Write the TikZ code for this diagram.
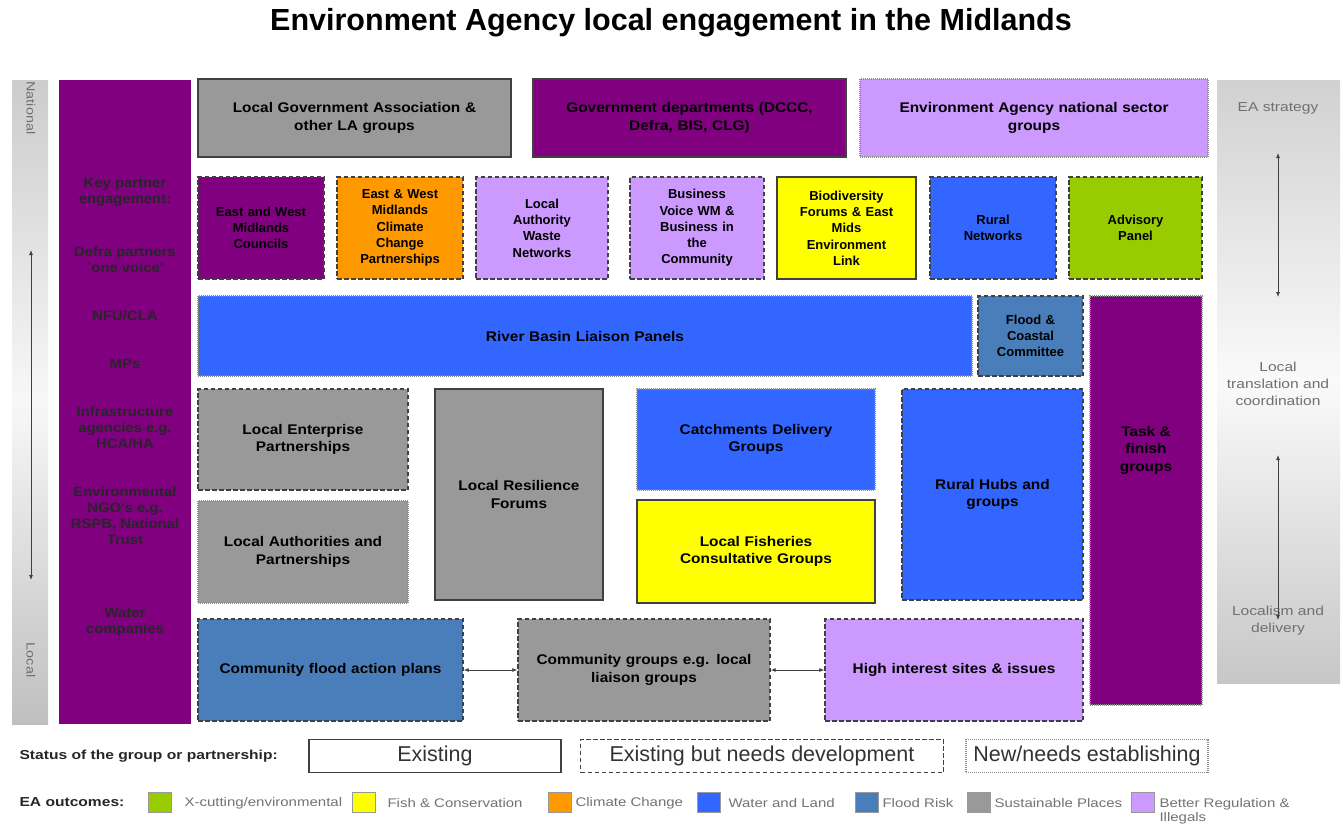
\documentclass[tikz,border=0pt]{standalone}
\usepackage{fontspec}
\setmainfont{Liberation Sans}
\newfontfamily\eawide[FakeStretch=1.2]{Liberation Sans}
\newfontfamily\eamid[FakeStretch=1.1]{Liberation Sans}
\usetikzlibrary{arrows.meta}
\definecolor{eapurple}{HTML}{800080}
\definecolor{eagrey}{HTML}{999999}
\definecolor{ealilac}{HTML}{CC99FF}
\definecolor{eaorange}{HTML}{FF9900}
\definecolor{eayellow}{HTML}{FFFF00}
\definecolor{eablue}{HTML}{3366FF}
\definecolor{eagreen}{HTML}{99CC00}
\definecolor{easteel}{HTML}{4A7EBB}
\definecolor{eabartext}{HTML}{707070}
\newcommand{\eabox}[7]{%
  \pgfmathsetmacro{\eaCX}{(#2+#4)/2}%
  \pgfmathsetmacro{\eaCY}{(#3+#5)/2}%
  \pgfmathsetmacro{\eaW}{#4-#2}%
  \pgfmathsetmacro{\eaH}{#5-#3}%
  \pgfmathsetmacro{\eaTW}{#4-#2-8}%
  \node[#6, minimum width=\eaW pt, minimum height=\eaH pt, text width=\eaTW pt] (#1) at (\eaCX,\eaCY) {#7};}
\tikzset{
  box/.style={draw=black!75, line width=1.4pt, inner sep=2pt, align=center,
    font=\eamid\bfseries\fontsize{14}{17.5}\selectfont, text=black},
  exist/.style={box},
  develop/.style={box, dash pattern=on 4.5pt off 2.5pt},
  newb/.style={box, draw=black!45, line width=1.1pt, dash pattern=on 1pt off 1pt},
  smalltxt/.style={font=\bfseries\fontsize{13}{16.3}\selectfont},
  coltxt/.style={align=center, font=\eamid\bfseries\fontsize{13.5}{16}\selectfont, text=black!85},
  bartxt/.style={align=center, font=\eawide\fontsize{13}{17}\selectfont, text=eabartext},
  bararrow/.style={{Latex[length=5pt,width=4pt]}-{Latex[length=5pt,width=4pt]}, line width=0.8pt, draw=black!75},
  legtxt/.style={anchor=west, font=\eawide\fontsize{12.5}{14}\selectfont, text=black!55, align=left},
  swatch/.style={draw=black!40, line width=0.8pt, minimum width=23pt, minimum height=20pt, inner sep=0pt},
  statbox/.style={font=\fontsize{21.5}{24}\selectfont, text=black!80, minimum height=33pt, inner sep=0pt, line width=1.3pt}
}
\begin{document}
\begin{tikzpicture}[x=1pt,y=-1pt]
\useasboundingbox (0,0) rectangle (1343,827);
\fill[white] (0,0) rectangle (1343,827);

% title
\node[font=\bfseries\fontsize{30.5}{34}\selectfont] (title) at (671,23) {Environment Agency local engagement in the Midlands};

% side bars
\shade[top color=black!20, bottom color=black!25, middle color=black!3] (12,80) rectangle (48,724);
\node[rotate=-90, font=\eawide\fontsize{12}{13}\selectfont, text=eabartext] (natl) at (31,108) {National};
\node[rotate=-90, font=\eawide\fontsize{12}{13}\selectfont, text=eabartext] (locl) at (31,660) {Local};
\coordinate (la1) at (31,250);
\coordinate (la2) at (31,580);
\draw[bararrow] (la1) -- (la2);

\shade[top color=black!18, bottom color=black!22, middle color=black!2] (1217,80) rectangle (1340,683);
\node[bartxt] (eastrat) at (1278,108) {EA strategy};
\node[bartxt] (loctrans) at (1278,384) {Local\\translation and\\coordination};
\node[bartxt] (locdel) at (1278,621) {Localism and\\delivery};
\coordinate (ra1) at (1278,153);
\coordinate (ra2) at (1278,297);
\coordinate (ra3) at (1278,455);
\coordinate (ra4) at (1278,620);
\draw[bararrow] (ra1) -- (ra2);
\draw[bararrow] (ra3) -- (ra4);

% purple column
\eabox{col}{59}{80}{191}{724}{box, draw=none, fill=eapurple}{}
\node[coltxt] (c1) at (125,192) {Key partner\\engagement:};
\node[coltxt] (c2) at (125,260) {Defra partners\\`one voice'};
\node[coltxt] (c3) at (125,316) {NFU/CLA};
\node[coltxt] (c4) at (125,364) {MPs};
\node[coltxt] (c5) at (125,428) {Infrastructure\\agencies e.g.\\HCA/HA};
\node[coltxt] (c6) at (125,516) {Environmental\\NGO's e.g.\\RSPB, National\\Trust};
\node[coltxt] (c7) at (125,622) {Water\\companies};

% top row
\eabox{lga}{198}{79}{511}{157}{exist, fill=eagrey}{Local Government Association \&\\other LA groups}
\eabox{gov}{533}{79}{846}{157}{exist, fill=eapurple}{Government departments (DCCC,\\Defra, BIS, CLG)}
\eabox{eans}{860}{79}{1208}{157}{newb, fill=ealilac}{Environment Agency national sector\\groups}

% row 2
\eabox{ewmc}{198}{177}{324}{279}{develop, smalltxt, fill=eapurple}{East and West\\Midlands\\Councils}
\eabox{ccp}{337}{177}{463}{279}{develop, smalltxt, fill=eaorange}{East \& West\\Midlands\\Climate\\Change\\Partnerships}
\eabox{lawn}{476}{177}{608}{279}{develop, smalltxt, fill=ealilac}{Local\\Authority\\Waste\\Networks}
\eabox{bvwm}{630}{177}{764}{279}{develop, smalltxt, fill=ealilac}{Business\\Voice WM \&\\Business in\\the\\Community}
\eabox{biod}{777}{177}{916}{279}{exist, smalltxt, fill=eayellow}{Biodiversity\\Forums \& East\\Mids\\Environment\\Link}
\eabox{rurn}{930}{177}{1056}{279}{develop, smalltxt, fill=eablue}{Rural\\Networks}
\eabox{advp}{1069}{177}{1202}{279}{develop, smalltxt, fill=eagreen}{Advisory\\Panel}

% row 3
\eabox{rblp}{198}{296}{972}{376}{newb, fill=eablue}{River Basin Liaison Panels}
\eabox{fcc}{978}{296}{1083}{376}{develop, smalltxt, fill=easteel}{Flood \&\\Coastal\\Committee}
\eabox{tfg}{1090}{296}{1202}{705}{newb, fill=eapurple}{}
\node[box, draw=none, align=center] (tfgtxt) at (1146,450) {Task \&\\finish\\groups};

% row 4
\eabox{lep}{198}{389}{408}{490}{develop, fill=eagrey}{Local Enterprise\\Partnerships}
\eabox{lap}{198}{501}{408}{603}{newb, fill=eagrey}{Local Authorities and\\Partnerships}
\eabox{lrf}{435}{389}{603}{600}{exist, fill=eagrey}{Local Resilience\\Forums}
\eabox{cdg}{637}{389}{875}{490}{newb, fill=eablue}{Catchments Delivery\\Groups}
\eabox{lfcg}{637}{500}{875}{603}{exist, fill=eayellow}{Local Fisheries\\Consultative Groups}
\eabox{rhg}{902}{389}{1083}{600}{develop, fill=eablue}{Rural Hubs and\\groups}

% row 5
\eabox{cfap}{198}{619}{463}{721}{develop, fill=easteel}{Community flood action plans}
\eabox{cg}{518}{619}{770}{721}{develop, fill=eagrey}{Community groups e.g. local\\liaison groups}
\eabox{his}{825}{619}{1083}{721}{develop, fill=ealilac}{High interest sites \& issues}
\draw[bararrow] (cfap.east) -- (cg.west);
\draw[bararrow] (cg.east) -- (his.west);

% legend: status
\node[anchor=west, font=\eawide\bfseries\fontsize{13}{14}\selectfont, text=black!85] (statlbl) at (16,756) {Status of the group or partnership:};
\node[statbox, draw=black!75, minimum width=252pt] (lgexist) at (435,756) {Existing};
\node[statbox, draw=black!75, dash pattern=on 4.5pt off 2.5pt, minimum width=363pt] (lgdev) at (762,756) {Existing but needs development};
\node[statbox, draw=black!45, dash pattern=on 1pt off 1pt, line width=1.1pt, minimum width=242pt] (lgnew) at (1087,756) {New/needs establishing};

% legend: outcomes
\node[anchor=west, font=\eawide\bfseries\fontsize{13}{14}\selectfont, text=black!85] (outlbl) at (16,802) {EA outcomes:};
\node[swatch, fill=eagreen] (s1) at (160,802) {};
\node[legtxt] (t1) at (181,803) {X-cutting/environmental};
\node[swatch, fill=eayellow] (s2) at (364,802) {};
\node[legtxt] (t2) at (384,803) {Fish \& Conservation};
\node[swatch, fill=eaorange] (s3) at (560,802) {};
\node[legtxt] (t3) at (572,803) {Climate Change};
\node[swatch, fill=eablue] (s4) at (709,802) {};
\node[legtxt] (t4) at (725,803) {Water and Land};
\node[swatch, fill=easteel] (s5) at (867,802) {};
\node[legtxt] (t5) at (879,803) {Flood Risk};
\node[swatch, fill=eagrey] (s6) at (979,802) {};
\node[legtxt] (t6) at (991,803) {Sustainable Places};
\node[swatch, fill=ealilac] (s7) at (1143,802) {};
\node[legtxt, anchor=north west] (t7) at (1156,795) {Better Regulation \&\\Illegals};
\end{tikzpicture}
\end{document}
